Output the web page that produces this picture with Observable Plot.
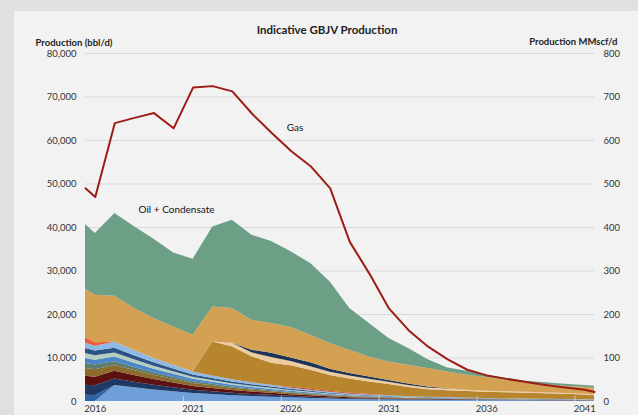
<!DOCTYPE html>
<html>
<head>
<meta charset="utf-8">
<script src="https://cdn.jsdelivr.net/npm/d3@7"></script>
<script src="https://cdn.jsdelivr.net/npm/@observablehq/plot@0.6"></script>
<style>
  html, body { margin: 0; padding: 0; }
  body { width: 638px; height: 415px; background: #e0e0e0; position: relative; overflow: hidden; font-family: Lato, "Open Sans", sans-serif; }
  #panel { position: absolute; left: 14px; top: 11px; right: 0; bottom: 0; background: #f2f2f2; }
  #chart { position: absolute; left: 0; top: 0; }
</style>
</head>
<body>
<div id="panel"></div>
<div id="chart"></div>
<script>
const years = [2015.5, 2016, 2017, 2018, 2019, 2020, 2021, 2022, 2023, 2024, 2025, 2026, 2027, 2028, 2029, 2030, 2031, 2032, 2033, 2034, 2035, 2036, 2037, 2038, 2039, 2040, 2041, 2041.5];

// Oil + condensate field layers, bottom to top (bbl/d)
const field01 = [0, 0, 3670, 3160, 2670, 2250, 1840, 1590, 1350, 1160, 1000, 840, 700, 570, 470, 400, 350, 300, 270, 240, 220, 190, 160, 150, 135, 120, 110, 100];
const field02 = [1450, 1400, 0, 0, 0, 0, 0, 0, 0, 0, 0, 0, 0, 0, 0, 0, 0, 0, 0, 0, 0, 0, 0, 0, 0, 0, 0, 0];
const field03 = [2300, 2200, 1500, 1290, 1090, 920, 750, 650, 550, 470, 410, 340, 290, 230, 190, 170, 140, 120, 110, 100, 90, 80, 70, 60, 55, 50, 45, 45];
const field04 = [2070, 2000, 1770, 1520, 1290, 1080, 880, 770, 650, 560, 480, 400, 340, 280, 230, 200, 170, 140, 130, 120, 100, 90, 80, 70, 65, 60, 50, 50];
const field05 = [1770, 1700, 1360, 1170, 990, 830, 680, 590, 500, 430, 370, 310, 260, 210, 180, 150, 130, 110, 100, 90, 80, 70, 60, 55, 50, 45, 40, 40];
const field06 = [1150, 1100, 820, 700, 590, 500, 410, 350, 300, 260, 220, 190, 160, 130, 110, 90, 80, 70, 60, 50, 50, 40, 40, 35, 30, 25, 25, 20];
const field07 = [1150, 1100, 1090, 940, 790, 670, 540, 470, 400, 340, 300, 250, 210, 170, 140, 120, 100, 90, 80, 70, 60, 60, 50, 45, 40, 35, 30, 30];
const field08 = [1140, 1000, 950, 820, 690, 580, 480, 410, 350, 300, 260, 220, 180, 150, 120, 100, 90, 80, 70, 60, 60, 50, 40, 40, 35, 35, 30, 30];
const field09 = [1150, 1100, 1090, 940, 790, 670, 540, 470, 400, 340, 300, 250, 210, 170, 140, 120, 100, 90, 80, 70, 60, 50, 50, 45, 40, 35, 30, 30];
const field10 = [1290, 1100, 1350, 1170, 990, 830, 680, 590, 500, 430, 370, 300, 250, 210, 170, 150, 140, 100, 100, 100, 80, 70, 50, 50, 50, 45, 40, 35];
const field11 = [1230, 800, 0, 0, 0, 0, 0, 0, 0, 0, 0, 0, 0, 0, 0, 0, 0, 0, 0, 0, 0, 0, 0, 0, 0, 0, 0, 0];
const field12 = [0, 0, 0, 0, 0, 0, 0, 0, 0, 0, 0, 200, 200, 180, 150, 100, 0, 0, 0, 0, 0, 0, 0, 0, 0, 0, 0, 0];
const field13 = [0, 0, 0, 0, 0, 0, 0, 7800, 7600, 6000, 5100, 4900, 4400, 3700, 3300, 2900, 2600, 2100, 1700, 1600, 1500, 1400, 1400, 1350, 1300, 1200, 1100, 970];
const field14 = [0, 0, 0, 0, 0, 0, 0, 0, 800, 900, 1300, 1000, 800, 700, 650, 600, 500, 450, 400, 350, 300, 280, 260, 240, 220, 200, 190, 180];
const field15 = [0, 0, 0, 0, 0, 0, 0, 0, 0, 600, 1000, 800, 900, 700, 600, 550, 450, 350, 250, 100, 0, 0, 0, 0, 0, 0, 0, 0];
const field16 = [11100, 10940, 10610, 9680, 9180, 8810, 8440, 8050, 7980, 6890, 6830, 7000, 6340, 5930, 5340, 4600, 4250, 4340, 4240, 3850, 3450, 3130, 2640, 2160, 1880, 1670, 1560, 1520];
const field17 = [14890, 14180, 19010, 18760, 18220, 17010, 17470, 18390, 20300, 19540, 18870, 17400, 16480, 14170, 9590, 7680, 5380, 3840, 2010, 900, 920, 540, 400, 370, 400, 460, 450, 470];

// Gas (MMscf/d)
const gas = [490, 470, 640, 652, 663, 628, 722, 725, 713, 662, 618, 576, 541, 490, 367, 294, 214, 164, 126, 97, 73, 60, 52, 45, 38, 32, 27, 22];

const layerNames = ["f01","f02","f03","f04","f05","f06","f07","f08","f09","f10","f11","f12","f13","f14","f15","f16","f17"];
const layerValues = [field01, field02, field03, field04, field05, field06, field07, field08, field09, field10, field11, field12, field13, field14, field15, field16, field17];
const layerColors = ["#6f9fd8","#2f63a6","#1f3864","#5c1010","#8c6b2c","#5f7d6c","#4a86c8","#b4cdbf","#2b5386","#8fb9e3","#ec5b3b","#d9281c","#b8852f","#ebcb9f","#1c3557","#d4a153","#6c9f85"];

const leftTicks = [0, 10000, 20000, 30000, 40000, 50000, 60000, 70000, 80000];
const rightTickLabels = ["0", "100", "200", "300", "400", "500", "600", "700", "800"];
const xTicks = [2016, 2021, 2026, 2031, 2036, 2041];
const xTickMarks = [2020.5, 2025.5, 2030.5, 2035.5, 2040.5];

const rows = [];
layerNames.forEach((name, i) => {
  years.forEach((yr, j) => rows.push({year: yr, layer: name, value: layerValues[i][j]}));
});
const gasRows = years.map((yr, j) => ({year: yr, gas: gas[j]}));

const chart = Plot.plot({
  width: 638,
  height: 415,
  marginLeft: 85,
  marginRight: 44,
  marginTop: 53,
  marginBottom: 14,
  style: {background: "transparent", fontFamily: "Lato, 'Open Sans', sans-serif", color: "#333"},
  x: {domain: [2015.5, 2041.5], axis: null},
  y: {domain: [0, 80000], axis: null},
  color: {domain: layerNames, range: layerColors},
  marks: [
    Plot.ruleY(leftTicks.slice(1), {stroke: "#d9d9d9", strokeWidth: 1}),
    Plot.areaY(rows, {x: "year", y: "value", fill: "layer", z: "layer"}),
    Plot.axisX({ticks: xTickMarks, tickSize: -5, tickFormat: () => "", stroke: "#d8d8d8", strokeOpacity: 0.8}),
    Plot.line(gasRows, {x: "year", y: d => d.gas * 100, stroke: "#9c1d16", strokeWidth: 2}),
    Plot.axisY({anchor: "left", ticks: leftTicks, tickSize: 0, tickPadding: 9, tickFormat: d3.format(","), fontSize: 9.5, label: null}),
    Plot.axisY({anchor: "right", ticks: leftTicks, tickSize: 0, tickPadding: 9, tickFormat: (d, i) => rightTickLabels[i], fontSize: 9.5, label: null}),
    Plot.axisX({ticks: xTicks, tickSize: 0, tickPadding: 4, tickFormat: d => String(d), fontSize: 9.5, label: null}),
    Plot.text(["Indicative GBJV Production"], {frameAnchor: "top", dx: -13, dy: -28, fontWeight: "bold", fontSize: 11.5, fill: "#222"}),
    Plot.text(["Production (bbl/d)"], {frameAnchor: "top-left", textAnchor: "start", dx: -50, dy: -14, fontWeight: "bold", fontSize: 9.5, fill: "#222"}),
    Plot.text(["Production MMscf/d"], {frameAnchor: "top-right", textAnchor: "end", dx: 23, dy: -15, fontWeight: "bold", fontSize: 9.5, fill: "#222"}),
    Plot.text([{x: 2020.15, y: 43980, t: "Oil + Condensate"}], {x: "x", y: "y", text: "t", fontSize: 10, fill: "#111"}),
    Plot.text([{x: 2026.2, y: 62900, t: "Gas"}], {x: "x", y: "y", text: "t", fontSize: 10, fill: "#111"})
  ]
});
document.getElementById("chart").appendChild(chart);
</script>
</body>
</html>
